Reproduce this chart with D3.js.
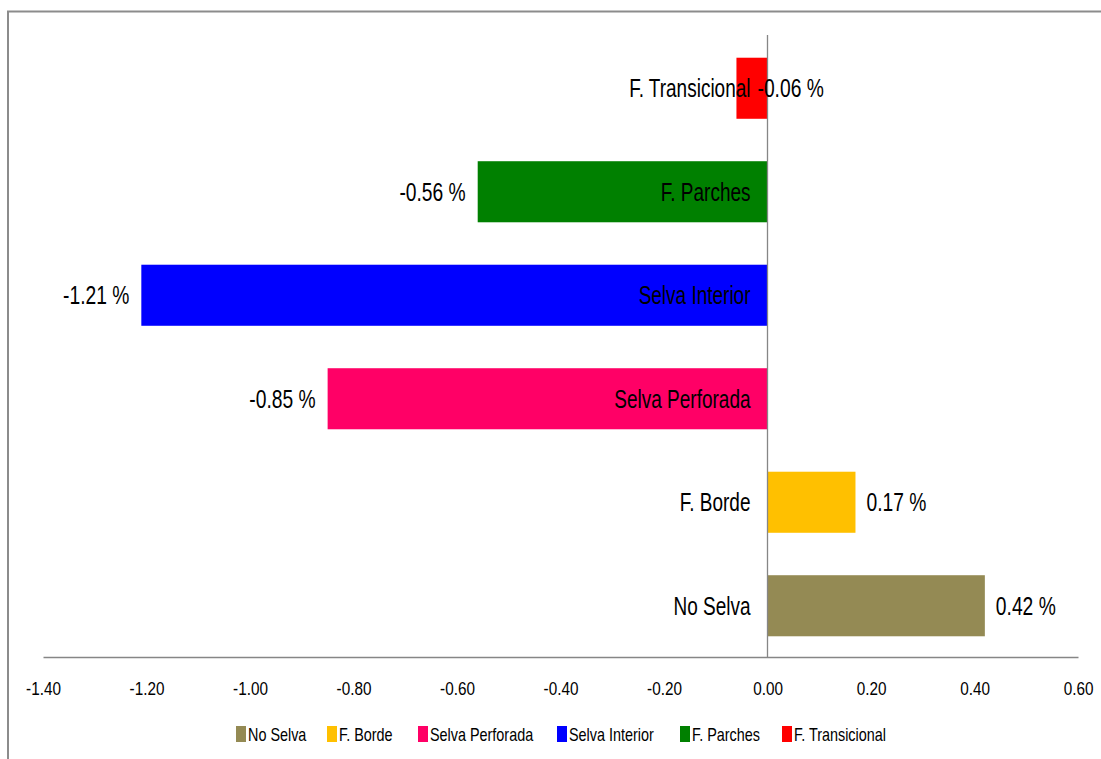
<!DOCTYPE html>
<html>
<head>
<meta charset="utf-8">
<script src="https://cdn.jsdelivr.net/npm/d3@7/dist/d3.min.js"></script>
<style>
  html, body { margin: 0; padding: 0; background: #fff; }
  svg { display: block; }
  text { font-family: "Liberation Sans", Arial, sans-serif; }
</style>
</head>
<body>
<svg id="chart" width="1101" height="759"></svg>
<script>
// Categories from bottom to top, with their change values (%)
const categories = ["No Selva", "F. Borde", "Selva Perforada", "Selva Interior", "F. Parches", "F. Transicional"];
const values = [0.42, 0.17, -0.85, -1.21, -0.56, -0.06];
const colors = ["#948A54", "#FFC000", "#FF0066", "#0000FF", "#008000", "#FF0000"];
const tickValues = [-1.4, -1.2, -1.0, -0.8, -0.6, -0.4, -0.2, 0.0, 0.2, 0.4, 0.6];

const svg = d3.select("#chart");

const num = v => d3.format(".2f")(v).replace("\u2212", "-");

// outer frame
svg.append("rect")
  .attr("x", 8).attr("y", 11.5)
  .attr("width", 1200).attr("height", 800)
  .attr("fill", "none").attr("stroke", "#8c8c8c").attr("stroke-width", 2);

const x = d3.scaleLinear().domain([-1.4, 0.6]).range([43, 1078]);
const y = d3.scaleBand()
  .domain(categories.slice().reverse())
  .range([36.5, 657.5])
  .paddingInner(0.41)
  .paddingOuter(0.205);

const data = categories.map((c, i) => ({ cat: c, value: values[i], color: colors[i] }));

// bars
svg.append("g").selectAll("rect")
  .data(data).join("rect")
  .attr("x", d => x(Math.min(0, d.value)))
  .attr("y", d => y(d.cat))
  .attr("width", d => Math.abs(x(d.value) - x(0)))
  .attr("height", y.bandwidth())
  .attr("fill", d => d.color);

// value axis (labels drawn narrow with a horizontal scale)
const xAxis = d3.axisBottom(x)
  .tickValues(tickValues)
  .tickSize(0)
  .tickPadding(0)
  .tickFormat(num);
const gx = svg.append("g").attr("transform", "translate(0,657)").call(xAxis);
gx.select(".domain").attr("stroke", "#868686").attr("stroke-width", 1.3);
gx.selectAll("text")
  .attr("y", 0).attr("dy", 0)
  .attr("transform", "translate(0,38) scale(0.85,1)")
  .attr("fill", "#000")
  .style("font-size", "18px");

// category axis at zero
svg.append("line")
  .attr("x1", x(0)).attr("x2", x(0))
  .attr("y1", 35).attr("y2", 657)
  .attr("stroke", "#868686").attr("stroke-width", 1.3);

// category labels next to the zero line
svg.append("g").selectAll("text")
  .data(data).join("text")
  .attr("transform", d => `translate(${x(0) - 17},${y(d.cat) + y.bandwidth() / 2}) scale(0.76,1)`)
  .attr("dy", "0.36em")
  .attr("text-anchor", "end")
  .style("font-size", "25px")
  .attr("fill", "#000")
  .text(d => d.cat);

// value labels
const labelX = d => {
  if (d.cat === "F. Transicional") return x(0) - 10;
  return d.value >= 0 ? x(d.value) + 11 : x(d.value) - 12;
};
svg.append("g").selectAll("text")
  .data(data).join("text")
  .attr("transform", d => `translate(${labelX(d)},${y(d.cat) + y.bandwidth() / 2}) scale(0.77,1)`)
  .attr("dy", "0.36em")
  .attr("text-anchor", d => (d.value >= 0 || d.cat === "F. Transicional") ? "start" : "end")
  .style("font-size", "25px")
  .attr("fill", "#000")
  .text(d => num(d.value) + " %");

// legend
const legendX = [236, 327, 418, 557, 680, 782];
const lg = svg.append("g").selectAll("g")
  .data(data).join("g")
  .attr("transform", (d, i) => `translate(${legendX[i]},726)`);
lg.append("rect")
  .attr("width", 10).attr("height", 16)
  .attr("fill", d => d.color);
lg.append("text")
  .attr("transform", "translate(12,15) scale(0.8,1)")
  .style("font-size", "18px")
  .attr("fill", "#000")
  .text(d => d.cat);
</script>
</body>
</html>
